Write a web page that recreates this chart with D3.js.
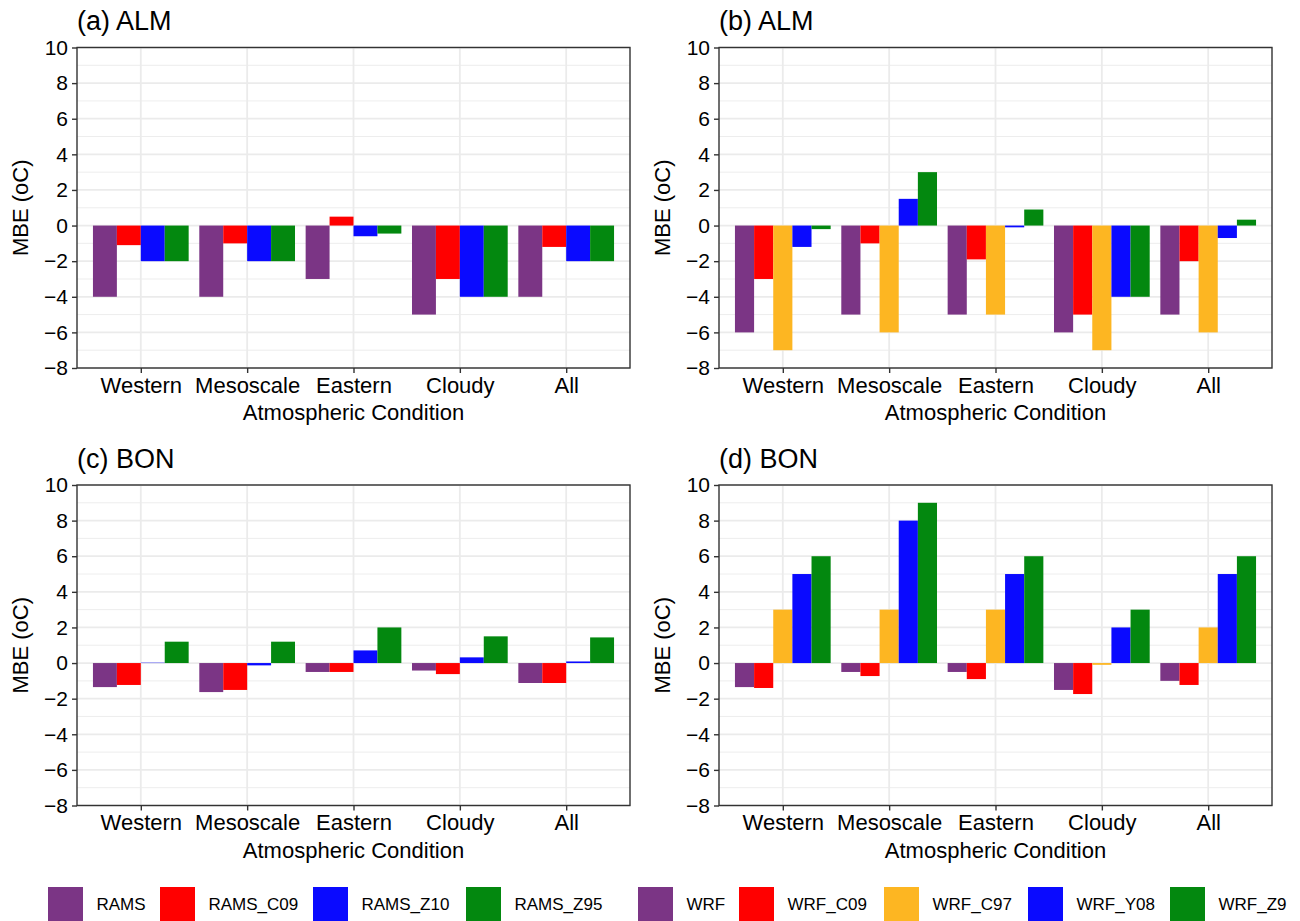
<!DOCTYPE html>
<html>
<head>
<meta charset="utf-8">
<script src="https://cdn.jsdelivr.net/npm/d3@7"></script>
<style>
  html, body { margin: 0; padding: 0; background: #fff; }
  svg { display: block; font-family: "Liberation Sans", Arial, Helvetica, sans-serif; }
</style>
</head>
<body>
<svg id="chart" width="1300" height="921"></svg>
<script>
// Atmospheric conditions on the x axis
const conditions = ["Western", "Mesoscale", "Eastern", "Cloudy", "All"];

// Model configurations
const ramsSeries = ["RAMS", "RAMS_C09", "RAMS_Z10", "RAMS_Z95"];
const wrfSeries  = ["WRF", "WRF_C09", "WRF_C97", "WRF_Y08", "WRF_Z9"];

// Mean bias error (oC) per condition, one array per model configuration
// (a) ALM, RAMS runs
const almRAMS     = [-4.0, -4.0, -3.0, -5.0, -4.0];
const almRAMS_C09 = [-1.1, -1.0,  0.5, -3.0, -1.2];
const almRAMS_Z10 = [-2.0, -2.0, -0.6, -4.0, -2.0];
const almRAMS_Z95 = [-2.0, -2.0, -0.45, -4.0, -2.0];

// (b) ALM, WRF runs
const almWRF     = [-6.0, -5.0, -5.0, -6.0, -5.0];
const almWRF_C09 = [-3.0, -1.0, -1.9, -5.0, -2.0];
const almWRF_C97 = [-7.0, -6.0, -5.0, -7.0, -6.0];
const almWRF_Y08 = [-1.2,  1.5, -0.1, -4.0, -0.7];
const almWRF_Z9  = [-0.2,  3.0,  0.9, -4.0,  0.33];

// (c) BON, RAMS runs
const bonRAMS     = [-1.35, -1.63, -0.5, -0.42, -1.12];
const bonRAMS_C09 = [-1.23, -1.51, -0.5, -0.62, -1.12];
const bonRAMS_Z10 = [ 0.02, -0.13,  0.71, 0.32,  0.09];
const bonRAMS_Z95 = [ 1.2,   1.2,   2.0,  1.5,   1.44];

// (d) BON, WRF runs
const bonWRF     = [-1.35, -0.5, -0.5, -1.51, -1.0];
const bonWRF_C09 = [-1.4, -0.73, -0.9, -1.74, -1.23];
const bonWRF_C97 = [ 3.0,  3.0,  3.0, -0.1,   2.0];
const bonWRF_Y08 = [ 5.0,  8.0,  5.0,  2.0,   5.0];
const bonWRF_Z9  = [ 6.0,  9.0,  6.0,  3.0,   6.0];

// Y axis ticks
const yMajorTicks = [-8, -6, -4, -2, 0, 2, 4, 6, 8, 10];
const yMinorTicks = [-7, -5, -3, -1, 1, 3, 5, 7, 9];

// Legend entries
const legendLabels = ["RAMS", "RAMS_C09", "RAMS_Z10", "RAMS_Z95", "WRF", "WRF_C09", "WRF_C97", "WRF_Y08", "WRF_Z9"];

// Series colours
const seriesColor = {
  RAMS: "#7B3585", RAMS_C09: "#FF0000", RAMS_Z10: "#0A0AFF", RAMS_Z95: "#03880F",
  WRF: "#7B3585", WRF_C09: "#FF0000", WRF_C97: "#FDB622", WRF_Y08: "#0A0AFF", WRF_Z9: "#03880F"
};

const panels = [
  { title: "(a) ALM", series: ramsSeries, values: [almRAMS, almRAMS_C09, almRAMS_Z10, almRAMS_Z95], col: 0, row: 0 },
  { title: "(b) ALM", series: wrfSeries,  values: [almWRF, almWRF_C09, almWRF_C97, almWRF_Y08, almWRF_Z9], col: 1, row: 0 },
  { title: "(c) BON", series: ramsSeries, values: [bonRAMS, bonRAMS_C09, bonRAMS_Z10, bonRAMS_Z95], col: 0, row: 1 },
  { title: "(d) BON", series: wrfSeries,  values: [bonWRF, bonWRF_C09, bonWRF_C97, bonWRF_Y08, bonWRF_Z9], col: 1, row: 1 }
];

// Panel geometry
const colX = [77, 719];
const rowY = [47.5, 485];
const pw = 553, ph = 320.5;

const svg = d3.select("#chart");
const gridCol = "#EBEBEB";
const frameCol = "#333333";

panels.forEach(p => {
  const g = svg.append("g").attr("transform", `translate(${colX[p.col]},${rowY[p.row]})`);

  const x = d3.scalePoint().domain(conditions).range([0, pw]).padding(0.6);
  const step = x.step();
  const xi = d3.scaleBand().domain(p.series).range([-0.45 * step, 0.45 * step]).padding(0);
  const y = d3.scaleLinear().domain([-8, 10]).range([ph, 0]);

  // grid lines
  g.append("g").selectAll("line.minor").data(yMinorTicks).join("line")
    .attr("x1", 0).attr("x2", pw)
    .attr("y1", d => y(d)).attr("y2", d => y(d))
    .attr("stroke", gridCol).attr("stroke-width", 0.9);
  g.append("g").selectAll("line.major").data(yMajorTicks).join("line")
    .attr("x1", 0).attr("x2", pw)
    .attr("y1", d => y(d)).attr("y2", d => y(d))
    .attr("stroke", gridCol).attr("stroke-width", 1.8);
  g.append("g").selectAll("line.vx").data(conditions).join("line")
    .attr("x1", d => x(d)).attr("x2", d => x(d))
    .attr("y1", 0).attr("y2", ph)
    .attr("stroke", gridCol).attr("stroke-width", 1.8);

  // bars
  const rows = [];
  p.series.forEach((s, si) => {
    conditions.forEach((c, ci) => rows.push({ s, c, v: p.values[si][ci] }));
  });
  g.append("g").selectAll("rect").data(rows).join("rect")
    .attr("x", d => x(d.c) + xi(d.s))
    .attr("width", xi.bandwidth())
    .attr("y", d => y(Math.max(0, d.v)))
    .attr("height", d => Math.abs(y(d.v) - y(0)))
    .attr("fill", d => seriesColor[d.s]);

  // frame
  g.append("rect").attr("x", 0).attr("y", 0).attr("width", pw).attr("height", ph)
    .attr("fill", "none").attr("stroke", frameCol).attr("stroke-width", 1.4);

  // y axis
  const yAxis = d3.axisLeft(y).tickValues(yMajorTicks).tickSize(5).tickPadding(4)
    .tickFormat(d => d < 0 ? "\u2212" + Math.abs(d) : String(d));
  const ya = g.append("g").call(yAxis);
  ya.select(".domain").remove();
  ya.selectAll(".tick line").attr("stroke", frameCol).attr("stroke-width", 1.4);
  ya.selectAll(".tick text").attr("fill", "#000").attr("font-size", 21);

  // x axis
  const xAxis = d3.axisBottom(x).tickSize(5).tickPadding(4);
  const xa = g.append("g").attr("transform", `translate(0,${ph})`).call(xAxis);
  xa.select(".domain").remove();
  xa.selectAll(".tick line").attr("stroke", frameCol).attr("stroke-width", 1.4);
  xa.selectAll(".tick text").attr("fill", "#000").attr("font-size", 22);

  // titles
  g.append("text").attr("x", 0).attr("y", -17.5)
    .attr("font-size", 27).attr("fill", "#000").text(p.title);
  g.append("text").attr("x", pw / 2).attr("y", ph + 52)
    .attr("text-anchor", "middle").attr("font-size", 22).attr("fill", "#000")
    .text("Atmospheric Condition");
  g.append("text")
    .attr("transform", `translate(${-49},${ph / 2}) rotate(-90)`)
    .attr("text-anchor", "middle").attr("font-size", 22).attr("fill", "#000")
    .text("MBE (oC)");
});

// legend: key left edges along the bottom row
const legendKeyX = [48, 160, 313, 466, 638, 739, 884, 1028, 1170];
const leg = svg.append("g");
legendLabels.forEach((lab, i) => {
  const lx = legendKeyX[i];
  leg.append("rect").attr("x", lx).attr("y", 887).attr("width", 35).attr("height", 34)
    .attr("fill", seriesColor[lab]);
  leg.append("text").attr("x", lx + 35 + 13.5).attr("y", 910)
    .attr("font-size", 17).attr("fill", "#000").text(lab);
});
</script>
</body>
</html>
